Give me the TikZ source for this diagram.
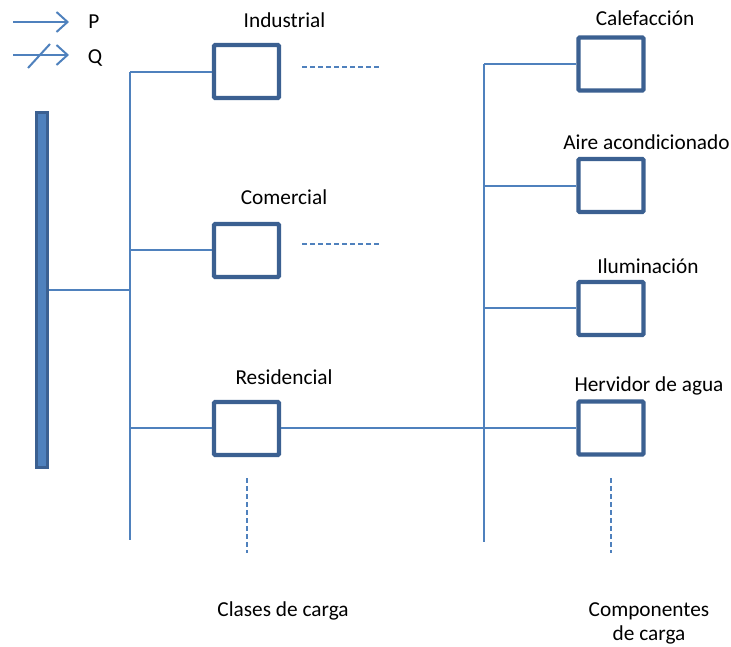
\documentclass[tikz,border=0pt]{standalone}
\usepackage{fontspec}
\setmainfont{Carlito}
\usetikzlibrary{arrows.meta}
\definecolor{lineblue}{HTML}{4F81BD}
\definecolor{boxblue}{HTML}{3B6091}
\tikzset{
  conn/.style={draw=lineblue, line width=2pt},
  loadbox/.style={draw=boxblue, line width=4.2pt, fill=white, minimum width=65pt, minimum height=53pt, inner sep=0pt, rounded corners=1pt},
  dashline/.style={draw=lineblue, line width=2pt, dash pattern=on 5pt off 3pt},
  lbl/.style={font=\fontsize{21.3}{24}\selectfont, inner sep=0pt, anchor=base},
  legarrow/.style={draw=lineblue, line width=2pt, -{Straight Barb[length=11pt,width=20pt,line width=2pt]}}
}
\begin{document}
\begin{tikzpicture}[x=1pt,y=-1pt]
\useasboundingbox (0,0) rectangle (731,647);
% legend
\coordinate (p1) at (13,22); \coordinate (p2) at (69,22);
\draw[legarrow] (p1) -- (p2);
\node[lbl] (P) at (94,29) {P};
\coordinate (q1) at (13,55); \coordinate (q2) at (69,55);
\draw[legarrow] (q1) -- (q2);
\coordinate (s1) at (28,68); \coordinate (s2) at (50,44);
\draw[conn] (s1) -- (s2);
\node[lbl] (Q) at (95,64) {Q};
% bus bar
\node[draw=boxblue, fill=lineblue, line width=3pt, minimum width=11pt, minimum height=354pt, inner sep=0pt, anchor=north west] (bus) at (34.5,111.5) {};
% left trunk
\coordinate (j0) at (130,290);
\coordinate (t1) at (130,72);
\coordinate (t2) at (130,540);
\draw[conn] (bus.east |- j0) -- (j0);
\draw[conn] (t1) -- (t2);
% class boxes
\node[loadbox] (ind) at (246.5,71.5) {};
\node[loadbox] (com) at (246.5,250.5) {};
\node[loadbox] (res) at (246.5,428.5) {};
\draw[conn] (t1) -- (ind.west |- t1);
\draw[conn] (130,250) coordinate (jc) -- (com.west |- jc);
\draw[conn] (130,428) coordinate (jr) -- (res.west |- jr);
\node[lbl] (lind) at (284.5,28) {Industrial};
\node[lbl] (lcom) at (284,205) {Comercial};
\node[lbl] (lres) at (284,384) {Residencial};
\coordinate (d1a) at (302,67); \coordinate (d1b) at (380,67);
\draw[dashline] (d1a) -- (d1b);
\coordinate (d2a) at (302,244); \coordinate (d2b) at (380,244);
\draw[dashline] (d2a) -- (d2b);
\coordinate (d3a) at (247,478); \coordinate (d3b) at (247,553);
\draw[dashline] (d3a) -- (d3b);
% right trunk
\coordinate (u1) at (484,64);
\coordinate (u2) at (484,542);
\coordinate (u4) at (484,428);
\draw[conn] (res.east |- u4) -- (u4);
\draw[conn] (u1) -- (u2);
\node[loadbox] (cal) at (611,64) {};
\node[loadbox] (aire) at (611,185.5) {};
\node[loadbox] (ilu) at (611,308.5) {};
\node[loadbox] (her) at (611,428) {};
\draw[conn] (u1) -- (cal.west |- u1);
\draw[conn] (484,186) coordinate (ua) -- (aire.west |- ua);
\draw[conn] (484,308) coordinate (ui) -- (ilu.west |- ui);
\draw[conn] (u4) -- (her.west |- u4);
\node[lbl] (lcal) at (645,26) {Calefacción};
\node[lbl] (laire) at (646.5,150) {Aire acondicionado};
\node[lbl] (lilu) at (648,273) {Iluminación};
\node[lbl] (lher) at (649,391) {Hervidor de agua};
\coordinate (d4a) at (611,478); \coordinate (d4b) at (611,553);
\draw[dashline] (d4a) -- (d4b);
% bottom labels
\node[lbl] (cls) at (283,616) {Clases de carga};
\node[lbl] (cmp1) at (649,616) {Componentes};
\node[lbl] (cmp2) at (649,640) {de carga};
\end{tikzpicture}
\end{document}
